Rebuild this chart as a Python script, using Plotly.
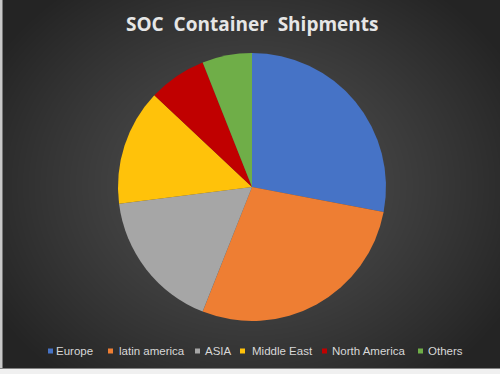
import base64, struct, zlib
import numpy as np
import plotly.graph_objects as go

# ---- data ----
regions = ["Europe", "latin america", "ASIA", "Middle East", "North America", "Others"]
shares = [28, 28, 17, 14, 7, 6]
colors = ["#4673C6", "#EE7E33", "#A6A6A6", "#FFC20A", "#C00000", "#6FAE48"]

# ---- layout helpers ----
W, H = 500, 374
legend_marker_x = [48, 108, 195, 240, 322, 418]   # px, left edge of legend swatch
legend_text_x = [54, 117, 203, 250, 330, 426]     # px, left edge of legend text
legend_y = 351


def make_bg():
    yy, xx = np.mgrid[0:H, 0:W].astype(float)
    cx, cy = 250.0, 185.0
    d = np.sqrt(((xx - cx) / 300.0) ** 2 + ((yy - cy) / 250.0) ** 2)
    d = np.clip(d, 0, 1)
    c_in, c_out = 82.0, 36.0
    v = c_in + (c_out - c_in) * d ** 1.2
    img = np.stack([v, v, v], axis=-1)
    # photo frame edges
    img[:, 0:2, :] = 200
    img[:, 2:3, :] = 120
    img[368:369, :, :] = 130
    img[369:, :, :] = 240
    img = np.clip(img, 0, 255).astype(np.uint8)
    raw = b"".join(b"\x00" + img[r].tobytes() for r in range(H))

    def chunk(t, d):
        c = struct.pack(">I", len(d)) + t + d
        return c + struct.pack(">I", zlib.crc32(t + d) & 0xffffffff)

    png = b"\x89PNG\r\n\x1a\n" + chunk(b"IHDR", struct.pack(">IIBBBBB", W, H, 8, 2, 0, 0, 0)) \
        + chunk(b"IDAT", zlib.compress(raw, 9)) + chunk(b"IEND", b"")
    return "data:image/png;base64," + base64.b64encode(png).decode()


fig = go.Figure(go.Pie(
    labels=regions,
    values=shares,
    sort=False,
    direction="clockwise",
    rotation=0,
    textinfo="none",
    hoverinfo="label+percent",
    marker=dict(colors=colors, line=dict(width=0)),
    domain=dict(x=[0.008, 1.0], y=[1 - 321 / H, 1 - 53 / H]),
    showlegend=False,
))

shapes = []
annotations = []
for name, col, mx, tx in zip(regions, colors, legend_marker_x, legend_text_x):
    shapes.append(dict(type="rect", xref="paper", yref="paper",
                       x0=mx / W, x1=(mx + 5) / W,
                       y0=1 - (legend_y + 2.5) / H, y1=1 - (legend_y - 2.5) / H,
                       fillcolor=col, line=dict(width=0)))
    annotations.append(dict(text=name, xref="paper", yref="paper",
                            x=tx / W, y=1 - legend_y / H, xanchor="left", yanchor="middle",
                            showarrow=False,
                            font=dict(family="Liberation Sans, Arial", size=11.5, color="#D8D8D8")))

annotations.append(dict(text="<b>SOC  Container  Shipments</b>", xref="paper", yref="paper",
                        x=252 / W, y=1 - 24 / H, xanchor="center", yanchor="middle",
                        showarrow=False,
                        font=dict(family="Open Sans", size=19, color="#E6E6E6")))

fig.update_layout(
    width=W, height=H,
    margin=dict(l=0, r=0, t=0, b=0),
    paper_bgcolor="#333333",
    plot_bgcolor="rgba(0,0,0,0)",
    images=[dict(source=make_bg(), xref="paper", yref="paper", x=0, y=1,
                 sizex=1, sizey=1, xanchor="left", yanchor="top",
                 sizing="stretch", layer="below")],
    shapes=shapes,
    annotations=annotations,
)

fig.write_html("out.html")
